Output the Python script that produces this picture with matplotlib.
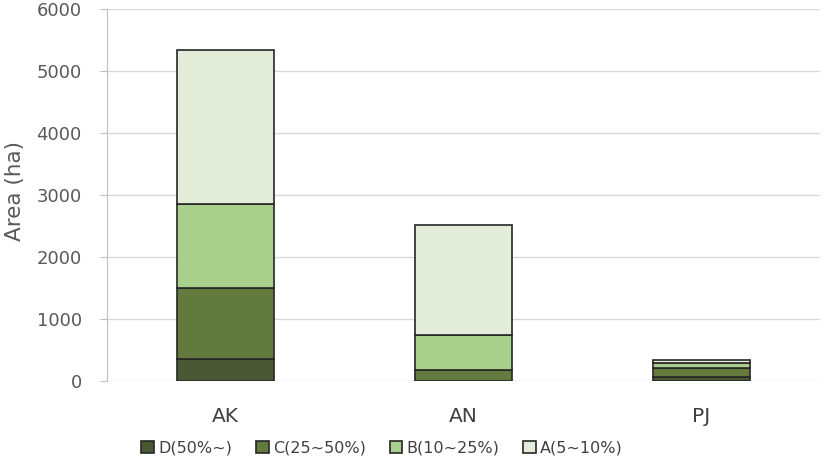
import matplotlib.pyplot as plt
import numpy as np

plt.rcParams.update({
    "font.family": "DejaVu Sans",
    "font.size": 12,
})

sites = ["AK", "AN", "PJ"]
labels = ["D(50%~)", "C(25~50%)", "B(10~25%)", "A(5~10%)"]
d_vals = [350, 0, 65]
c_vals = [1150, 175, 145]
b_vals = [1350, 565, 80]
a_vals = [2480, 1775, 50]
series = [d_vals, c_vals, b_vals, a_vals]
colors = ["#4a5934", "#637a3e", "#a9cf8d", "#e2ecd9"]

fig = plt.figure(figsize=(8.27, 4.71), dpi=100)
ax = fig.add_axes([0.129, 0.191, 0.863, 0.790])

x = np.arange(len(sites))
bottom = np.zeros(len(sites))
for vals, col, lab in zip(series, colors, labels):
    ax.bar(x, vals, 0.41, bottom=bottom, color=col, edgecolor="#262626",
           linewidth=1.2, label=lab, zorder=3)
    bottom += np.array(vals)

ax.set_xlim(-0.5, 2.5)
ax.set_ylim(0, 6000)
ax.set_yticks(range(0, 6001, 1000))
ax.set_xticks(x)
ax.set_xticklabels(sites)
ax.yaxis.grid(True, color="#d9d9d9", lw=1, zorder=0)
for s in ["top", "right", "bottom"]:
    ax.spines[s].set_visible(False)
ax.spines["left"].set_color("#bfbfbf")
ax.tick_params(axis="y", colors="#bfbfbf", labelcolor="#595959", length=5,
               labelsize=13, pad=13)
ax.tick_params(axis="x", length=0, labelcolor="#404040", labelsize=14.5, pad=19)
ax.set_ylabel("Area (ha)", color="#595959", fontsize=15.5)
ax.yaxis.set_label_coords(-0.115, 0.51)

leg = fig.legend(*ax.get_legend_handles_labels(), loc="center",
                 bbox_to_anchor=(382 / 827, 1 - 448 / 471), ncol=4, frameon=False,
                 fontsize=11.5, handlelength=0.8, handleheight=0.8, handletextpad=0.25,
                 columnspacing=1.5, borderpad=0, borderaxespad=0)
for t in leg.get_texts():
    t.set_color("#404040")

fig.savefig("out.png", dpi=100)
